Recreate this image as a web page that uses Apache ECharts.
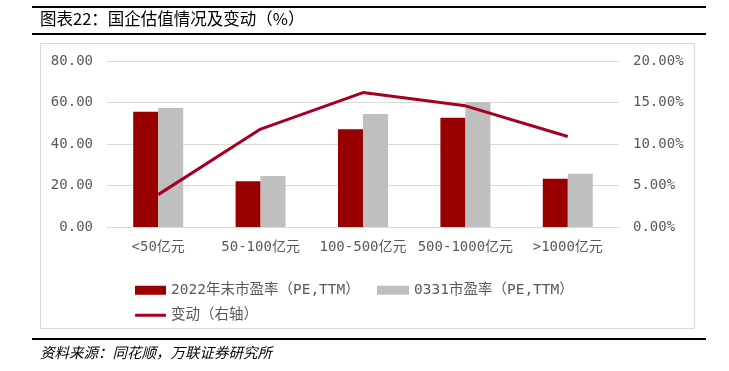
<!DOCTYPE html>
<html>
<head>
<meta charset="utf-8">
<script src="https://cdn.jsdelivr.net/npm/echarts@6/dist/echarts.min.js"></script>
<style>
html,body{margin:0;padding:0;background:#fff;}
#chart{width:729px;height:371px;}
</style>
</head>
<body>
<div id="chart"></div>
<script>
const categories = ['<50亿元', '50-100亿元', '100-500亿元', '500-1000亿元', '>1000亿元'];
const pe2022 = [55.5, 22.1, 47.1, 52.6, 23.3];
const pe0331 = [57.4, 24.6, 54.4, 60.2, 25.7];
const change = [3.9, 11.8, 16.2, 14.6, 10.9];
const leftTicks = [0, 80, 20];
const rightTicks = [0, 20, 5];
const seriesNames = ['2022年末市盈率（PE,TTM）', '0331市盈率（PE,TTM）', '变动（右轴）'];
const titleText = '图表22：国企估值情况及变动（%）';
const sourceText = '资料来源：同花顺，万联证券研究所';

const monoFont = '"DejaVu Sans Mono", "Noto Sans CJK SC", monospace';
const labelColor = '#595959';
const chart = echarts.init(document.getElementById('chart'));
chart.setOption({
  animation: false,
  backgroundColor: '#ffffff',
  grid: { left: 107, right: 110, top: 61, bottom: 144 },
  graphic: [
    { type: 'line', shape: { x1: 32, y1: 7, x2: 706, y2: 7 }, style: { stroke: '#000', lineWidth: 2 } },
    { type: 'line', shape: { x1: 32, y1: 34, x2: 706, y2: 34 }, style: { stroke: '#000', lineWidth: 2 } },
    { type: 'line', shape: { x1: 32, y1: 339, x2: 706, y2: 339 }, style: { stroke: '#000', lineWidth: 2 } },
    { type: 'rect', shape: { x: 40.5, y: 43.5, width: 654, height: 285 }, style: { fill: 'none', stroke: '#D9D9D9', lineWidth: 1 } },
    { type: 'text', left: 40, top: 10, style: { text: titleText, fontSize: 16.5, fill: '#000', fontFamily: '"Noto Sans CJK SC"' } },
    { type: 'text', left: 40, top: 345, style: { text: sourceText, fontSize: 14.5, fill: '#000', fontStyle: 'italic', fontFamily: '"Noto Sans CJK SC"' } }
  ],
  legend: [
    { left: 130, top: 278, itemWidth: 31, itemHeight: 9, itemGap: 4, data: [{ name: seriesNames[0], icon: 'rect' }],
      textStyle: { color: labelColor, fontSize: 14.5, fontFamily: monoFont } },
    { left: 372, top: 278, itemWidth: 32, itemHeight: 9, data: [{ name: seriesNames[1], icon: 'rect' }],
      textStyle: { color: labelColor, fontSize: 14.5, fontFamily: monoFont } },
    { left: 130, top: 303, itemWidth: 31, itemHeight: 3, data: [{ name: seriesNames[2], icon: 'roundRect' }],
      textStyle: { color: labelColor, fontSize: 14.5, fontFamily: monoFont } }
  ],
  xAxis: {
    type: 'category',
    data: categories,
    axisLine: { lineStyle: { color: '#D9D9D9' } },
    axisTick: { show: false },
    axisLabel: { color: labelColor, fontSize: 14, fontFamily: monoFont, margin: 13, interval: 0 }
  },
  yAxis: [
    {
      type: 'value', min: leftTicks[0], max: leftTicks[1], interval: leftTicks[2],
      axisLine: { show: false }, axisTick: { show: false },
      splitLine: { lineStyle: { color: '#D9D9D9', width: 1 } },
      axisLabel: { color: labelColor, fontSize: 14, fontFamily: monoFont, margin: 14, formatter: v => v.toFixed(2) }
    },
    {
      type: 'value', min: rightTicks[0], max: rightTicks[1], interval: rightTicks[2],
      axisLine: { show: false }, axisTick: { show: false }, splitLine: { show: false },
      axisLabel: { color: labelColor, fontSize: 14, fontFamily: monoFont, margin: 14, formatter: v => v.toFixed(2) + '%' }
    }
  ],
  series: [
    { name: seriesNames[0], type: 'bar', data: pe2022, barWidth: 25, barGap: '0%', itemStyle: { color: '#990000' } },
    { name: seriesNames[1], type: 'bar', data: pe0331, barWidth: 25, barGap: '0%', itemStyle: { color: '#BFBFBF' } },
    { name: seriesNames[2], type: 'line', yAxisIndex: 1, data: change, symbol: 'none',
      lineStyle: { color: '#A50021', width: 3 }, itemStyle: { color: '#A50021' } }
  ]
});
</script>
</body>
</html>
